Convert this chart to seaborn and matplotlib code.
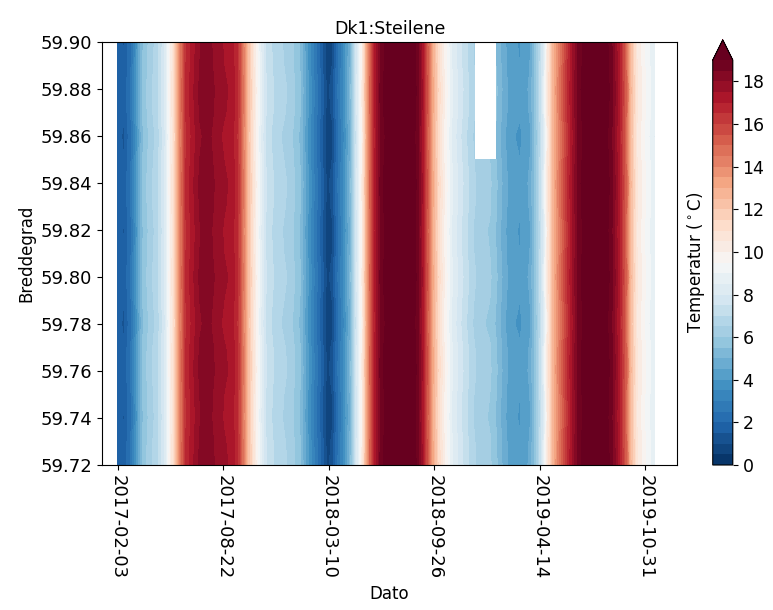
import numpy as np
import pandas as pd
import matplotlib
matplotlib.use("Agg")
import matplotlib.pyplot as plt
import matplotlib.dates as mdates
import seaborn as sns

# temperature read along the time axis (one value per date)
dates = ["2017-02-03", "2017-02-14", "2017-02-28", "2017-03-11", "2017-03-22",
         "2017-04-04", "2017-04-19", "2017-05-03", "2017-05-13", "2017-05-22",
         "2017-05-31", "2017-06-12", "2017-06-25", "2017-07-08", "2017-07-23",
         "2017-08-08", "2017-08-23", "2017-09-07", "2017-09-18", "2017-09-28",
         "2017-10-07", "2017-10-19", "2017-10-30", "2017-11-10", "2017-11-28",
         "2017-12-26", "2018-01-14", "2018-01-27", "2018-02-09", "2018-02-21",
         "2018-03-06", "2018-03-16", "2018-03-25", "2018-04-07", "2018-04-19",
         "2018-04-30", "2018-05-12", "2018-05-19", "2018-05-27", "2018-06-05",
         "2018-06-16", "2018-07-03", "2018-07-23", "2018-08-11", "2018-08-26",
         "2018-09-04", "2018-09-14", "2018-09-23", "2018-10-02", "2018-10-14",
         "2018-10-29", "2018-11-17", "2018-11-28", "2018-12-10", "2018-12-21",
         "2019-01-09", "2019-01-21", "2019-02-03", "2019-02-16", "2019-03-07",
         "2019-03-26", "2019-04-08", "2019-04-20", "2019-04-29", "2019-05-08",
         "2019-05-22", "2019-06-06", "2019-06-25", "2019-07-18", "2019-08-09",
         "2019-08-28", "2019-09-12", "2019-09-24", "2019-10-03", "2019-10-15",
         "2019-10-30", "2019-11-18"]
temps = [1.8, 1.5, 2.5, 4.0, 5.5, 6.2, 6.8, 8.0, 9.8, 11.5,
         14.0, 16.5, 17.3, 18.0, 18.3, 17.8, 17.5, 17.3, 16.5, 14.5,
         12.5, 10.5, 8.8, 7.5, 6.8, 6.3, 5.5, 4.2, 3.0, 2.0,
         0.8, 1.0, 2.2, 3.5, 5.0, 7.5, 10.0, 12.5, 15.0, 17.0,
         18.6, 19.6, 20.3, 19.8, 18.6, 17.2, 15.0, 13.0, 11.5, 10.0,
         8.5, 7.5, 7.0, 6.5, 6.2, 6.0, 5.5, 4.8, 4.2, 4.0,
         4.5, 6.0, 8.0, 10.5, 12.5, 14.5, 16.5, 18.6, 19.8, 19.8,
         18.6, 17.0, 15.0, 12.5, 10.5, 9.5, 8.5]

lats = [59.72, 59.73, 59.74, 59.75, 59.76, 59.77, 59.78, 59.79, 59.80, 59.81,
        59.82, 59.83, 59.84, 59.85, 59.86, 59.87, 59.88, 59.89, 59.90]
lat_offsets = [0.10, 0.05, -0.05, 0.00, 0.10, 0.05, -0.10, 0.00, 0.10, 0.00,
               -0.05, 0.05, 0.10, 0.00, -0.10, 0.05, 0.10, 0.00, -0.05]

# missing measurements (white block at the top)
gap_dates = ["2018-12-21", "2019-01-09"]
gap_from_lat = 59.86

tick_dates = ["2017-02-03", "2017-08-22", "2018-03-10",
              "2018-09-26", "2019-04-14", "2019-10-31"]

df = pd.DataFrame({"dato": pd.to_datetime(dates), "temp": temps})
lat_arr = np.array(lats)
grid = np.add.outer(np.array(lat_offsets), df["temp"].values)
for g in pd.to_datetime(gap_dates):
    col = np.where(df["dato"] == g)[0][0]
    grid[lat_arr >= gap_from_lat - 1e-9, col] = np.nan

cmap = sns.color_palette("RdBu_r", as_cmap=True)

fig = plt.figure(figsize=(7.73, 6.10), dpi=100)
ax = fig.add_axes([0.132, 0.2377, 0.744, 0.693])
cax = fig.add_axes([0.922, 0.2377, 0.026, 0.697])

x = mdates.date2num(df["dato"])
cs = ax.contourf(x, lat_arr, grid, levels=np.arange(0, 19.5, 0.5),
                 cmap=cmap, extend="max", corner_mask=False)

ax.set_xlim(mdates.date2num(pd.Timestamp("2017-01-04")),
            mdates.date2num(pd.Timestamp("2019-12-30")))
ax.set_ylim(59.72, 59.90)
ax.set_yticks(np.arange(59.72, 59.905, 0.02))
ax.yaxis.set_major_formatter(plt.FormatStrFormatter("%.2f"))
ax.set_xticks(mdates.date2num(pd.to_datetime(tick_dates)))
ax.xaxis.set_major_formatter(mdates.DateFormatter("%Y-%m-%d"))
plt.setp(ax.get_xticklabels(), rotation=270)
ax.tick_params(labelsize=13)

ax.set_title("Dk1:Steilene", fontsize=12.5)
ax.set_xlabel("Dato", fontsize=12)
ax.set_ylabel("Breddegrad", fontsize=12)

cbar = fig.colorbar(cs, cax=cax, ticks=np.arange(0, 19, 2))
cbar.ax.tick_params(labelsize=12.5)
cbar.set_label(r"Temperatur ($^\circ$C)", fontsize=12)
cbar.ax.yaxis.set_label_position("left")

fig.savefig("out.png", dpi=100)
